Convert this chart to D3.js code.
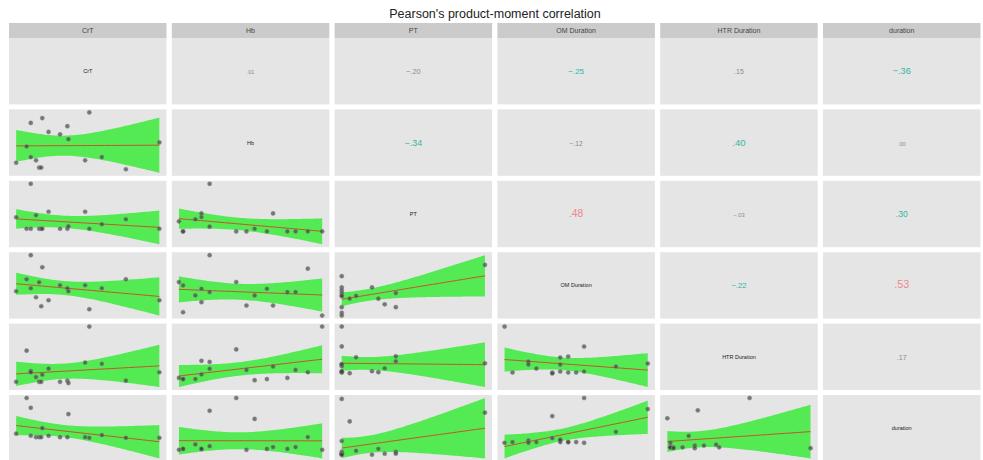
<!DOCTYPE html>
<html>
<head>
<meta charset="utf-8">
<script src="https://cdn.jsdelivr.net/npm/d3@7"></script>
<style>
  body { margin: 0; background: #fff; }
  svg { display: block; font-family: "Liberation Sans", Arial, sans-serif; }
</style>
</head>
<body>
<div id="chart"></div>
<script>
// variable names (strip labels + diagonal)
const varNames = ["CrT", "Hb", "PT", "OM Duration", "HTR Duration", "duration"];

// one value per patient
const crt = [13, 23, 27, 27, 32, 35, 37, 38, 44, 55, 62, 63, 79, 83, 95, 118, 150];
const hb  = [9.8, 11.8, 10.5, 14.7, 10.1, 9.2, 9.2, 15.3, 13.6, 13.3, 14.3, 12.7, 10.1, 16.0, 10.5, 9.0, 12.3];
const pt  = [13.3, 11.0, 20.0, 11.0, 13.7, 11.0, 11.0, 11.0, 14.4, 11.0, 11.0, 11.5, 14.4, 11.0, 11.9, 12.9, 11.0];
const om  = [8, 12, 20, 9, 6, 11, 3, 16, 5, 10, 9, 8, 10, 2, 9, 12, 5];
const htr = [2, 28, 11, 10, 6, 2, 2, 8, 13, 2, 3, 1, 18, 48, 17, 3, 10];
const dur = [9, 60, 46, 6, 4, 4, 4, 17, 6, 4, 4, 37, 4, 3, 7, 3, 3];

const columns = [crt, hb, pt, om, htr, dur];

const W = 983, H = 460;
const gridLeft = 9, pitchX = 162.8, panelW = 157.5;
const stripTop = 23, stripH = 15;
const gridTop = 38, pitchY = 71.4, panelH = 66.4;

const svg = d3.select('#chart').append('svg')
    .attr('width', W).attr('height', H);

svg.append('text')
    .attr('x', 495).attr('y', 18)
    .attr('text-anchor', 'middle')
    .attr('font-size', 12.5)
    .attr('fill', '#222')
    .text("Pearson's product-moment correlation");

// strips
varNames.forEach((name, j) => {
    var x0 = gridLeft + j * pitchX;
    svg.append('rect')
        .attr('x', x0).attr('y', stripTop)
        .attr('width', panelW).attr('height', stripH)
        .attr('fill', '#cbcbcb');
    svg.append('text')
        .attr('x', x0 + panelW / 2).attr('y', stripTop + stripH / 2 + 2.5)
        .attr('text-anchor', 'middle')
        .attr('font-size', 7)
        .attr('fill', '#444')
        .text(name);
});

function pearson(a, b) {
    var ma = d3.mean(a), mb = d3.mean(b);
    var sab = d3.sum(a, (d, i) => (d - ma) * (b[i] - mb));
    var saa = d3.sum(a, d => (d - ma) * (d - ma));
    var sbb = d3.sum(b, d => (d - mb) * (d - mb));
    return sab / Math.sqrt(saa * sbb);
}

// linear fit with 95% band, like geom_smooth(method = "lm")
function fitLine(xs, ys) {
    var n = xs.length;
    var mx = d3.mean(xs), my = d3.mean(ys);
    var sxx = d3.sum(xs, d => (d - mx) * (d - mx));
    var sxy = d3.sum(xs, (d, i) => (d - mx) * (ys[i] - my));
    var b = sxy / sxx, a = my - b * mx;
    var rss = d3.sum(xs, (d, i) => Math.pow(ys[i] - (a + b * d), 2));
    var s = Math.sqrt(rss / (n - 2));
    var t = 2.131; // t(0.975, 15)
    var ext = d3.extent(xs);
    return d3.range(0, 61).map(k => {
        var x = ext[0] + (ext[1] - ext[0]) * k / 60;
        var yhat = a + b * x;
        var se = s * Math.sqrt(1 / n + (x - mx) * (x - mx) / sxx);
        return { x: x, y: yhat, lo: yhat - t * se, hi: yhat + t * se };
    });
}

const fmt = d3.format('.2f');

// colour of the coefficient text by strength
function corColor(r) {
    var a = Math.abs(r);
    if (a < 0.2) return '#8a8a8a';
    if (a < 0.42) return '#2fb79f';
    return '#ee8790';
}

for (var i = 0; i < 6; i++) {
    for (var j = 0; j < 6; j++) {
        var x0 = gridLeft + j * pitchX;
        var y0 = gridTop + i * pitchY;
        var g = svg.append('g').attr('transform', 'translate(' + x0 + ',' + y0 + ')');

        g.append('rect')
            .attr('width', panelW).attr('height', panelH)
            .attr('fill', '#e5e5e5');

        if (i === j) {
            g.append('text')
                .attr('x', panelW / 2).attr('y', panelH / 2 + 2)
                .attr('text-anchor', 'middle')
                .attr('font-size', 5.5)
                .attr('fill', '#222')
                .text(varNames[i]);
            continue;
        }

        if (i < j) {
            var r = pearson(columns[i], columns[j]);
            g.append('text')
                .attr('x', panelW / 2).attr('y', panelH / 2 + 3)
                .attr('text-anchor', 'middle')
                .attr('font-size', 5.5 + 10 * Math.abs(r))
                .attr('fill', corColor(r))
                .text(fmt(r).replace('0.', '.'));
            continue;
        }

        // lower triangle: x = column variable, y = row variable
        var xs = columns[j], ys = columns[i];
        var pts = xs.map((d, k) => ({ x: d, y: ys[k] }));
        var band = fitLine(xs, ys);

        var xe = d3.extent(xs);
        var padX = (xe[1] - xe[0]) * 0.05;
        var yLo = Math.min(d3.min(ys), d3.min(band, d => d.lo));
        var yHi = Math.max(d3.max(ys), d3.max(band, d => d.hi));
        var padY = (yHi - yLo) * 0.05;

        var x = d3.scaleLinear().domain([xe[0] - padX, xe[1] + padX]).range([0, panelW]);
        var y = d3.scaleLinear().domain([yLo - padY, yHi + padY]).range([panelH, 0]);

        g.append('path')
            .datum(band)
            .attr('fill', '#44ea44')
            .attr('fill-opacity', 0.9)
            .attr('d', d3.area().x(d => x(d.x)).y0(d => y(d.lo)).y1(d => y(d.hi)));

        g.append('path')
            .datum(band)
            .attr('fill', 'none')
            .attr('stroke', '#c8502a')
            .attr('stroke-width', 1)
            .attr('d', d3.line().x(d => x(d.x)).y(d => y(d.y)));

        g.selectAll('circle')
            .data(pts)
            .enter()
            .append('circle')
            .attr('cx', d => x(d.x))
            .attr('cy', d => y(d.y))
            .attr('r', 2.1)
            .attr('fill', '#3a3a3a')
            .attr('fill-opacity', 0.65)
            .attr('stroke', '#888')
            .attr('stroke-width', 0.5);
    }
}
</script>
</body>
</html>
